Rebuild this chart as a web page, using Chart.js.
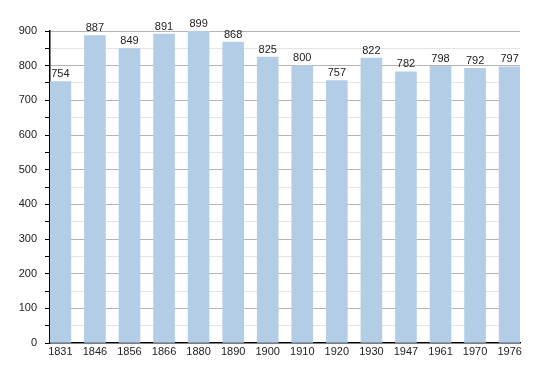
<!DOCTYPE html>
<html>
<head>
<meta charset="utf-8">
<script src="https://cdn.jsdelivr.net/npm/chart.js@4/dist/chart.umd.min.js"></script>
<style>
  html, body { margin: 0; padding: 0; background: #fff; }
</style>
</head>
<body>
<canvas id="popChart" width="550" height="373"></canvas>
<script>
const years = ['1831', '1846', '1856', '1866', '1880', '1890', '1900', '1910', '1920', '1930', '1947', '1961', '1970', '1976'];
const population = [754, 887, 849, 891, 899, 868, 825, 800, 757, 822, 782, 798, 792, 797];
const yTicks = [0, 100, 200, 300, 400, 500, 600, 700, 800, 900];

// valeurs au-dessus des barres
const valueLabels = {
    id: 'valueLabels',
    afterDatasetsDraw(chart) {
        const c = chart.ctx;
        const meta = chart.getDatasetMeta(0);
        c.save();
        c.font = '11px "Liberation Sans", Arial, sans-serif';
        c.fillStyle = '#222';
        c.textAlign = 'center';
        c.textBaseline = 'bottom';
        meta.data.forEach((bar, i) => {
            c.fillText(String(population[i]), bar.x, bar.y - 2);
        });
        c.restore();
    }
};

const ctx = document.getElementById('popChart').getContext('2d');
new Chart(ctx, {
    type: 'bar',
    data: {
        datasets: [{
            data: population.map((v, i) => ({ x: i, y: v })),
            backgroundColor: '#b3cde6',
            borderWidth: 0,
            barThickness: 21
        }]
    },
    options: {
        responsive: false,
        animation: false,
        layout: { padding: { top: 31, right: 30, bottom: 0, left: 0 } },
        plugins: { legend: { display: false }, tooltip: { enabled: false } },
        scales: {
            x: {
                type: 'linear',
                offset: false,
                min: -0.3,
                max: 13.3,
                grid: { display: false, drawTicks: false },
                border: { display: true, color: '#000', width: 1.5 },
                afterBuildTicks: s => { s.ticks = years.map((_, i) => ({ value: i })); },
                afterFit: s => { s.height = 30; },
                ticks: {
                    padding: 2,
                    autoSkip: false,
                    maxRotation: 0,
                    color: '#222',
                    font: { family: '"Liberation Sans", Arial, sans-serif', size: 11 },
                    callback: v => years[v]
                }
            },
            y: {
                min: 0,
                max: 900,
                afterBuildTicks: s => {
                    const t = [];
                    for (let v = 0; v <= 900; v += 50) t.push({ value: v });
                    s.ticks = t;
                },
                afterFit: s => { s.width = 50; },
                border: { display: true, color: '#000', width: 1.5 },
                grid: {
                    color: c => c.tick.value === 0 ? 'rgba(0,0,0,0)' : (c.tick.value % 100 === 0 ? '#b4b4b4' : '#e4e4e4'),
                    tickColor: '#000',
                    tickLength: 5,
                    lineWidth: 1
                },
                ticks: {
                    padding: 8,
                    color: '#222',
                    font: { family: '"Liberation Sans", Arial, sans-serif', size: 11 },
                    callback: v => yTicks.includes(v) ? String(v) : ''
                }
            }
        }
    },
    plugins: [valueLabels]
});
</script>
</body>
</html>
